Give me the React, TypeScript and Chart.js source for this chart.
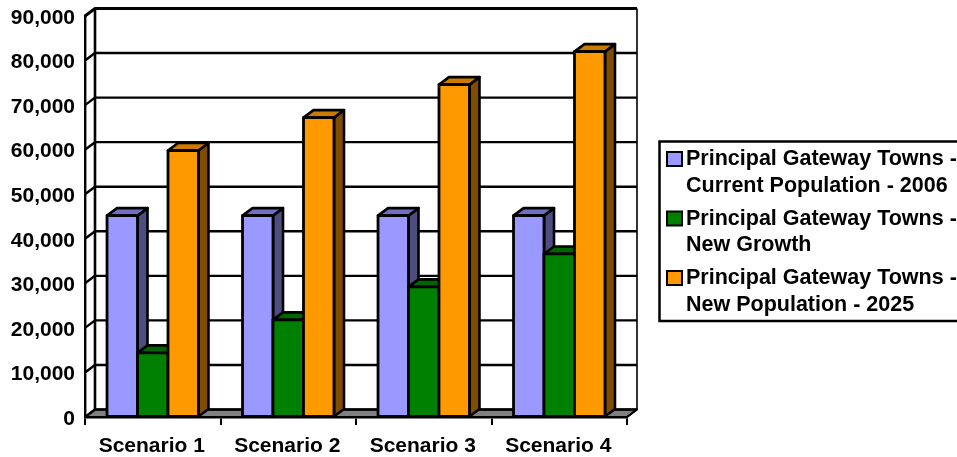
import React, { useEffect, useRef } from "react";
import { Chart, registerables } from "chart.js";

Chart.register(...registerables);

const categories = ["Scenario 1", "Scenario 2", "Scenario 3", "Scenario 4"];
const currentPopulation = [45200, 45200, 45200, 45200];
const newGrowth = [14400, 21800, 29200, 36600];
const newPopulation = [59800, 67200, 74600, 82000];
const seriesLines = [
  ["Principal Gateway Towns -", "Current Population - 2006"],
  ["Principal Gateway Towns -", "New Growth"],
  ["Principal Gateway Towns -", "New Population - 2025"],
];
const frontColors = ["#9999FF", "#008000", "#FF9900"];
const sideColors = ["#4D4D80", "#004000", "#804D00"];
const topColors = ["#7070C0", "#006600", "#CC7A00"];

const FONT = '"Liberation Sans", Arial, sans-serif';
const DEPTH_X = 10;
const DEPTH_Y = 7.5;

function polygon(ctx: CanvasRenderingContext2D, pts: number[][], fill: string | null, lineWidth: number) {
  ctx.beginPath();
  pts.forEach(([x, y], i) => (i ? ctx.lineTo(x, y) : ctx.moveTo(x, y)));
  ctx.closePath();
  if (fill) {
    ctx.fillStyle = fill;
    ctx.fill();
  }
  ctx.lineWidth = lineWidth;
  ctx.strokeStyle = "#000";
  ctx.lineJoin = "round";
  ctx.stroke();
}

// Back wall, side wall and floor of the 3D box behind the columns.
const wallsPlugin = {
  id: "walls",
  beforeDraw(chart: any) {
    const { ctx, chartArea: a, scales } = chart;
    ctx.save();
    ctx.strokeStyle = "#000";
    polygon(
      ctx,
      [
        [a.left, a.bottom],
        [a.left + DEPTH_X, a.bottom - DEPTH_Y],
        [a.right + DEPTH_X, a.bottom - DEPTH_Y],
        [a.right, a.bottom],
      ],
      "#808080",
      2
    );
    for (const tick of scales.y.ticks) {
      const y = scales.y.getPixelForValue(tick.value);
      const isTop = tick.value === scales.y.max;
      ctx.lineWidth = isTop ? 3 : 2.4;
      ctx.beginPath();
      ctx.moveTo(a.left, y);
      ctx.lineTo(a.left + DEPTH_X, y - DEPTH_Y);
      ctx.lineTo(a.right + DEPTH_X, y - DEPTH_Y);
      ctx.stroke();
    }
    ctx.lineWidth = 2.6;
    ctx.beginPath();
    ctx.moveTo(a.left + DEPTH_X, a.top - DEPTH_Y);
    ctx.lineTo(a.left + DEPTH_X, a.bottom - DEPTH_Y);
    ctx.stroke();
    ctx.lineWidth = 1.6;
    ctx.beginPath();
    ctx.moveTo(a.right + DEPTH_X, a.top - DEPTH_Y);
    ctx.lineTo(a.right + DEPTH_X, a.bottom - DEPTH_Y);
    ctx.lineTo(a.right, a.bottom);
    ctx.stroke();
    ctx.restore();
  },
};

// Columns are painted series by series, left to right, so that each front
// face hides the side of the column before it.
const columnsPlugin = {
  id: "columns",
  beforeDatasetsDraw(chart: any) {
    const { ctx } = chart;
    chart.data.datasets.forEach((_: any, i: number) => {
      const meta = chart.getDatasetMeta(i);
      const faces = meta.data.map((bar: any) => bar.getProps(["x", "y", "base", "width"], true));
      ctx.save();
      for (const { x, y, base, width } of faces) {
        const l = x - width / 2;
        const r = x + width / 2;
        polygon(
          ctx,
          [
            [r, y],
            [r + DEPTH_X, y - DEPTH_Y],
            [r + DEPTH_X, base - DEPTH_Y],
            [r, base],
          ],
          sideColors[i],
          2.6
        );
        polygon(
          ctx,
          [
            [l, y],
            [l + DEPTH_X, y - DEPTH_Y],
            [r + DEPTH_X, y - DEPTH_Y],
            [r, y],
          ],
          topColors[i],
          2.6
        );
      }
      ctx.restore();
      meta.controller.draw();
      ctx.save();
      for (const { x, y, base, width } of faces) {
        const l = x - width / 2;
        const r = x + width / 2;
        polygon(
          ctx,
          [
            [l, y],
            [r, y],
            [r, base],
            [l, base],
          ],
          null,
          2.8
        );
      }
      ctx.restore();
    });
  },
  beforeDatasetDraw() {
    return false;
  },
};

// Framed key on the right, running off the page edge.
const keyPlugin = {
  id: "key",
  afterDraw(chart: any) {
    const { ctx } = chart;
    ctx.save();
    ctx.lineWidth = 2.5;
    ctx.strokeStyle = "#000";
    ctx.strokeRect(659.5, 141.5, 310, 179.5);
    ctx.font = `bold 21.5px ${FONT}`;
    ctx.textBaseline = "middle";
    ctx.textAlign = "left";
    seriesLines.forEach((lines, i) => {
      const rowY = 159 + i * 59.5;
      ctx.fillStyle = frontColors[i];
      ctx.fillRect(667, rowY - 7, 15, 14);
      ctx.lineWidth = 2;
      ctx.strokeRect(667, rowY - 7, 15, 14);
      ctx.fillStyle = "#000";
      lines.forEach((line, j) => ctx.fillText(line, 686, rowY + 0.5 + j * 26.5));
    });
    ctx.restore();
  },
};

export default function App() {
  const canvasRef = useRef<HTMLCanvasElement | null>(null);

  useEffect(() => {
    const values = [currentPopulation, newGrowth, newPopulation];
    const chart = new Chart(canvasRef.current as HTMLCanvasElement, {
      type: "bar",
      data: {
        labels: categories,
        datasets: values.map((data, i) => ({
          label: seriesLines[i].join(" "),
          data,
          backgroundColor: frontColors[i],
          borderWidth: 0,
          categoryPercentage: 0.675,
          barPercentage: 1,
        })),
      },
      options: {
        animation: false,
        responsive: false,
        layout: { padding: { top: 16, right: 330, left: 0, bottom: 0 } },
        plugins: { legend: { display: false }, tooltip: { enabled: false } },
        scales: {
          x: {
            afterFit: (s: any) => {
              s.height = 40;
              s.paddingLeft = 0;
              s.paddingRight = 0;
            },
            grid: { drawOnChartArea: false, offset: true, color: "#000", lineWidth: 2, tickLength: 8 },
            border: { color: "#000", width: 2.4 },
            ticks: { color: "#000", padding: 9, labelOffset: -1, font: { family: FONT, weight: "bold", size: 21 }, maxRotation: 0 },
          },
          y: {
            min: 0,
            max: 90000,
            afterFit: (s: any) => {
              s.width = 85;
              s.paddingTop = 0;
              s.paddingBottom = 0;
            },
            grid: { drawOnChartArea: false, drawTicks: false },
            border: { color: "#000", width: 2.4 },
            ticks: {
              stepSize: 10000,
              color: "#000",
              padding: 10,
              labelOffset: 2,
              font: { family: FONT, weight: "bold", size: 21 },
              callback: (v: any) => Number(v).toLocaleString("en-US"),
            },
          },
        },
      } as any,
      plugins: [wallsPlugin, columnsPlugin, keyPlugin],
    });
    return () => chart.destroy();
  }, []);

  return (
    <div style={{ position: "absolute", left: 0, top: 0, width: 957, height: 457, background: "#fff", overflow: "hidden" }}>
      <canvas ref={canvasRef} width={957} height={457} style={{ display: "block" }} />
    </div>
  );
}
